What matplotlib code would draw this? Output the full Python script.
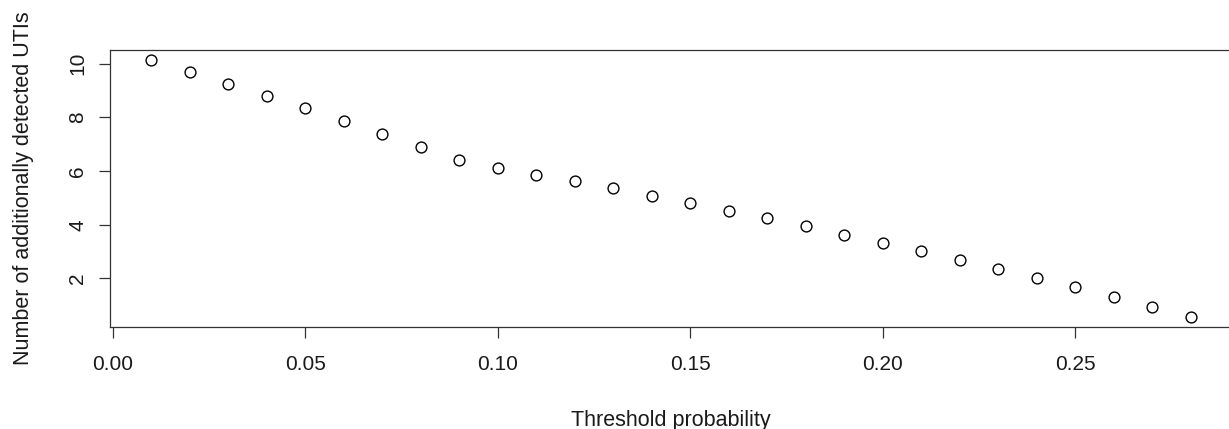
import matplotlib

matplotlib.use("Agg")
import matplotlib.pyplot as plt
import numpy as np

# threshold probabilities and number of additionally detected UTIs
thresholds = [0.01, 0.02, 0.03, 0.04, 0.05, 0.06, 0.07, 0.08, 0.09, 0.10,
              0.11, 0.12, 0.13, 0.14, 0.15, 0.16, 0.17, 0.18, 0.19, 0.20,
              0.21, 0.22, 0.23, 0.24, 0.25, 0.26, 0.27, 0.28]
detected_utis = [10.13, 9.69, 9.25, 8.80, 8.34, 7.85, 7.38, 6.88, 6.40, 6.13,
                 5.87, 5.62, 5.37, 5.08, 4.81, 4.52, 4.24, 3.94, 3.63, 3.33,
                 3.01, 2.69, 2.36, 2.01, 1.66, 1.31, 0.94, 0.57]
x_ticks = [0.00, 0.05, 0.10, 0.15, 0.20, 0.25]
y_ticks = [2, 4, 6, 8, 10]

plt.rcParams["font.family"] = ["Liberation Sans", "DejaVu Sans"]
text_color = "#1a1a1a"

fig = plt.figure(figsize=(12.29, 4.29), dpi=100)
# axes box runs slightly past the right edge, as in the cropped original
ax = fig.add_axes([0.0892, 0.2378, 0.9133, 0.6457])

ax.plot(thresholds, detected_utis, linestyle="none", marker="o",
        markersize=7.8, markerfacecolor="white", markeredgecolor="black",
        markeredgewidth=1.0)


def r_limits(values):
    lo, hi = min(values), max(values)
    pad = 0.04 * (hi - lo)
    return lo - pad, hi + pad


ax.set_xlim(*r_limits(thresholds))
ax.set_ylim(*r_limits(detected_utis))

ax.set_xticks(x_ticks)
ax.set_xticklabels([f"{t:.2f}" for t in x_ticks])
ax.set_yticks(y_ticks)
ax.set_yticklabels([str(t) for t in y_ticks], rotation=90, va="center")

ax.tick_params(axis="both", direction="out", length=8, width=0.9,
               labelsize=15, colors="#333333", labelcolor=text_color)
ax.tick_params(axis="x", pad=12)
ax.tick_params(axis="y", pad=8)
for spine in ax.spines.values():
    spine.set_linewidth(0.9)
    spine.set_color("#333333")

ax.set_xlabel("Threshold probability", fontsize=15.5, labelpad=26, color=text_color)
ax.set_ylabel("Number of additionally detected UTIs", fontsize=15.5, labelpad=25,
              color=text_color)

fig.savefig("out.png", dpi=100, facecolor="white")
